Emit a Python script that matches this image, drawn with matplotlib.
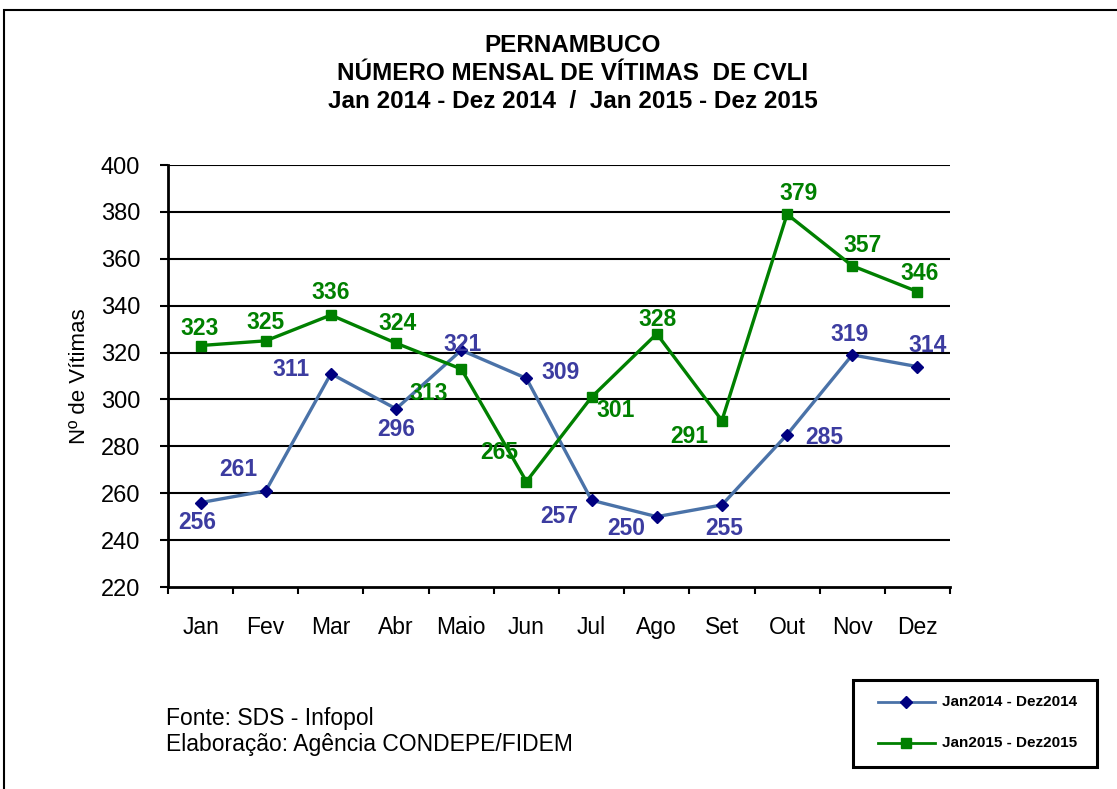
import matplotlib
matplotlib.use("Agg")
import matplotlib.pyplot as plt
from matplotlib.lines import Line2D
from matplotlib.patches import Rectangle

plt.rcParams['font.family'] = ['Liberation Sans', 'DejaVu Sans']

months = ["Jan", "Fev", "Mar", "Abr", "Maio", "Jun", "Jul", "Ago", "Set", "Out", "Nov", "Dez"]
v2014 = [256, 261, 311, 296, 321, 309, 257, 250, 255, 285, 319, 314]
v2015 = [323, 325, 336, 324, 313, 265, 301, 328, 291, 379, 357, 346]
label2014 = "Jan2014 - Dez2014"
label2015 = "Jan2015 - Dez2015"
yticks = [220, 240, 260, 280, 300, 320, 340, 360, 380, 400]

# label offsets in pixels (dx, dy)
off2014 = [(-3, -20), (-27, 21), (-40, 4), (0, -21), (1, 6), (34, 6),
           (-32, -16), (-31, -12), (2, -24), (37, -3), (-3, 20), (10, 21)]
off2015 = [(-1, 17), (0, 18), (0, 23), (1, 20), (-33, -25), (-27, 29),
           (24, -13), (1, 14), (-33, -16), (11, 21), (10, 20), (2, 18)]

W, H = 1117, 789
fig = plt.figure(figsize=(W / 100, H / 100), dpi=100)
fig.patch.set_facecolor("white")

# outer border
fig.add_artist(Rectangle((4 / W, -0.05), 1.2, (H - 10) / H + 0.05, transform=fig.transFigure,
                         fill=False, edgecolor="black", linewidth=1.5, clip_on=False))

ax = fig.add_axes([168 / W, 1 - 587 / H, (950 - 168) / W, (587 - 165) / H])
x = list(range(len(months)))

c14_line = "#4a72a8"
c14_mark = "#000080"
c14_text = "#3c3ca0"
c15 = "#008000"

ax.plot(x, v2014, color=c14_line, linewidth=2.4, marker="D", markersize=6.5,
        markerfacecolor=c14_mark, markeredgecolor=c14_mark, zorder=3)
ax.plot(x, v2015, color=c15, linewidth=2.4, marker="s", markersize=7,
        markerfacecolor=c15, markeredgecolor=c15, zorder=3)

for xi, v, (dx, dy) in zip(x, v2014, off2014):
    ax.annotate(str(v), (xi, v), xytext=(dx, dy), textcoords="offset pixels",
                ha="center", va="center", fontsize=16.5, fontweight="bold", color=c14_text, zorder=4)
for xi, v, (dx, dy) in zip(x, v2015, off2015):
    ax.annotate(str(v), (xi, v), xytext=(dx, dy), textcoords="offset pixels",
                ha="center", va="center", fontsize=16.5, fontweight="bold", color=c15, zorder=4)

ax.set_xlim(-0.5, len(months) - 0.5)
ax.set_ylim(220, 400)
ax.set_yticks(yticks)
ax.set_yticklabels([str(t) for t in yticks], fontsize=17)
ax.set_xticks(x)
ax.set_xticklabels(months, fontsize=16.5)
ax.tick_params(axis="x", which="major", length=0, pad=21)
ax.set_xticks([i - 0.5 for i in range(len(months) + 1)], minor=True)
ax.tick_params(axis="x", which="minor", length=5, width=1.5, color="black")
ax.tick_params(axis="y", length=6, width=1.5, color="black", pad=14)
for t in yticks[1:]:
    ax.axhline(t, color="black", linewidth=1.5, zorder=1)
for s in ["top", "right"]:
    ax.spines[s].set_visible(False)
for s in ["left", "bottom"]:
    ax.spines[s].set_linewidth(2)
    ax.spines[s].set_color("black")
ax.set_ylabel("Nº de Vítimas", fontsize=16, labelpad=8)

fig.text(573 / W, 1 - 45 / H, "PERNAMBUCO", ha="center", va="center", fontsize=17.5, fontweight="bold")
fig.text(573 / W, 1 - 73 / H, "NÚMERO MENSAL DE VÍTIMAS  DE CVLI", ha="center", va="center",
         fontsize=17.5, fontweight="bold")
fig.text(573 / W, 1 - 101 / H, "Jan 2014 - Dez 2014  /  Jan 2015 - Dez 2015", ha="center", va="center",
         fontsize=17.5, fontweight="bold")

fig.text(166 / W, 1 - 718 / H, "Fonte: SDS - Infopol", ha="left", va="center", fontsize=16.5)
fig.text(166 / W, 1 - 745 / H, "Elaboração: Agência CONDEPE/FIDEM", ha="left", va="center", fontsize=16.5)

# legend
lx0, ly0, lx1, ly1 = 853, 680, 1097, 767
fig.add_artist(Rectangle((lx0 / W, 1 - ly1 / H), (lx1 - lx0) / W, (ly1 - ly0) / H,
                         transform=fig.transFigure, fill=True, facecolor="white",
                         edgecolor="black", linewidth=2.2))
for yy, col, mk, ms, lab in [(702, c14_line, "D", 6, label2014), (743, c15, "s", 7, label2015)]:
    mcol = c14_mark if mk == "D" else c15
    fig.add_artist(Line2D([878 / W, 935 / W], [1 - yy / H, 1 - yy / H], transform=fig.transFigure,
                          color=col, linewidth=2))
    fig.add_artist(Line2D([906 / W], [1 - yy / H], transform=fig.transFigure, marker=mk,
                          markersize=ms, color=mcol, linestyle="none"))
    fig.text(942 / W, 1 - yy / H, lab, ha="left", va="center", fontsize=11, fontweight="bold")

fig.savefig("out.png", dpi=100)
